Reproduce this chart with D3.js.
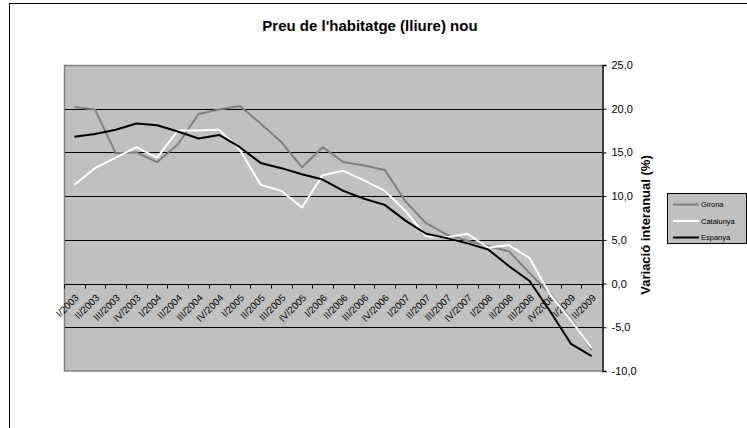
<!DOCTYPE html>
<html lang="ca">
<head>
  <meta charset="UTF-8">
  <title>Preu de l'habitatge (lliure) nou</title>
  <style>
    * { margin: 0; padding: 0; }
    body { background: #fff; width: 747px; height: 428px; overflow: hidden; }
    svg { display: block; font-family: "Liberation Sans", Arial, sans-serif; }
  </style>
  <script src="https://cdnjs.cloudflare.com/ajax/libs/d3/7.8.5/d3.min.js"></script>
</head>
<body>
  <svg id="chart" width="747" height="428"></svg>
  <script>
    const categories = [
      'I/2003', 'II/2003', 'III/2003', 'IV/2003',
      'I/2004', 'II/2004', 'III/2004', 'IV/2004',
      'I/2005', 'II/2005', 'III/2005', 'IV/2005',
      'I/2006', 'II/2006', 'III/2006', 'IV/2006',
      'I/2007', 'II/2007', 'III/2007', 'IV/2007',
      'I/2008', 'II/2008', 'III/2008', 'IV/2008',
      'I/2009', 'II/2009'
    ];
    const girona = [20.2, 19.9, 14.9, 15.0, 13.9, 15.9, 19.4, 19.9, 20.3, 18.3, 16.2, 13.3, 15.6,
      13.9, 13.5, 13.0, 9.4, 6.9, 5.6, 4.9, 4.3, 3.7, 1.2, -1.2, -4.0, -7.6];
    const catalunya = [11.3, 13.2, 14.4, 15.6, 14.4, 17.5, 17.5, 17.6, 15.3, 11.3, 10.6, 8.7, 12.4,
      12.9, 11.8, 10.6, 8.3, 5.4, 5.3, 5.7, 4.1, 4.4, 2.9, -1.3, -4.2, -7.4];
    const espanya = [16.8, 17.1, 17.6, 18.3, 18.1, 17.4, 16.6, 17.0, 15.6, 13.8, 13.2, 12.5, 11.9,
      10.6, 9.7, 9.0, 7.2, 5.7, 5.2, 4.6, 3.9, 2.0, 0.3, -3.2, -6.9, -8.3];
    const yTicks = [-10, -5, 0, 5, 10, 15, 20, 25];

    const series = [
      { name: 'Girona', values: girona, color: '#808080' },
      { name: 'Catalunya', values: catalunya, color: '#ffffff' },
      { name: 'Espanya', values: espanya, color: '#000000' }
    ];

    const plot = { left: 64, right: 602, top: 65, bottom: 371 };

    const svg = d3.select('#chart');

    // outer chart border
    svg.append('rect')
      .attr('x', 9.5).attr('y', 3.5)
      .attr('width', 800).attr('height', 500)
      .attr('fill', '#fff').attr('stroke', '#000');

    svg.append('text')
      .attr('x', 370).attr('y', 31)
      .attr('text-anchor', 'middle')
      .attr('font-size', 15).attr('font-weight', 'bold')
      .attr('fill', '#000')
      .text("Preu de l'habitatge (lliure) nou");

    const x = d3.scaleBand().domain(categories).range([plot.left, plot.right]);
    const y = d3.scaleLinear().domain([-10, 25]).range([plot.bottom, plot.top]);

    // plot area
    svg.append('rect')
      .attr('x', plot.left).attr('y', plot.top)
      .attr('width', plot.right - plot.left).attr('height', plot.bottom - plot.top)
      .attr('fill', '#c0c0c0');

    // gridlines
    svg.append('g').selectAll('line')
      .data(yTicks.filter(d => d > -10 && d < 25))
      .join('line')
      .attr('x1', plot.left).attr('x2', plot.right)
      .attr('y1', d => Math.round(y(d)) + 0.5).attr('y2', d => Math.round(y(d)) + 0.5)
      .attr('stroke', '#000');

    // plot border (top, left, bottom in grey)
    svg.append('path')
      .attr('d', `M${plot.right},${plot.top + 0.5}H${plot.left + 0.5}V${plot.bottom}H${plot.right}`)
      .attr('fill', 'none').attr('stroke', '#808080').attr('stroke-width', 1.5);

    // x axis along zero line, ticks at category boundaries
    const y0 = Math.round(y(0)) + 0.5;
    const xAxis = svg.append('g');
    xAxis.append('line')
      .attr('x1', plot.left).attr('x2', plot.right)
      .attr('y1', y0).attr('y2', y0)
      .attr('stroke', '#000');
    const bounds = categories.map(c => x(c)).concat([x(categories[categories.length - 1]) + x.bandwidth()]);
    xAxis.selectAll('.tick')
      .data(bounds)
      .join('line')
      .attr('class', 'tick')
      .attr('x1', d => Math.round(d) + 0.5).attr('x2', d => Math.round(d) + 0.5)
      .attr('y1', y0).attr('y2', y0 + 4)
      .attr('stroke', '#000');
    xAxis.selectAll('text')
      .data(categories)
      .join('text')
      .attr('transform', d => `translate(${x(d) + x.bandwidth() / 2 + 5},${y0 + 14}) rotate(-45)`)
      .attr('text-anchor', 'end')
      .attr('font-size', 9.8)
      .attr('fill', '#000')
      .text(d => d);

    // right y axis
    const yAxis = svg.append('g')
      .attr('transform', `translate(${plot.right + 0.5},0)`)
      .call(d3.axisRight(y).tickValues(yTicks).tickSize(4).tickPadding(5)
        .tickFormat(d => d.toFixed(1).replace('.', ',')));
    yAxis.select('.domain').attr('stroke', '#000').attr('stroke-width', 1.5);
    yAxis.selectAll('text').attr('font-size', 11).attr('fill', '#000')
      .attr('font-family', '"Liberation Sans", Arial, sans-serif');

    svg.append('text')
      .attr('transform', `translate(650,225) rotate(-90)`)
      .attr('text-anchor', 'middle')
      .attr('font-size', 13).attr('font-weight', 'bold')
      .attr('fill', '#000')
      .text('Variació interanual (%)');

    // series lines
    const line = d3.line()
      .x((d, i) => x(categories[i]) + x.bandwidth() / 2)
      .y(d => y(d));

    svg.append('g').selectAll('path')
      .data(series)
      .join('path')
      .attr('d', s => line(s.values))
      .attr('fill', 'none')
      .attr('stroke', s => s.color)
      .attr('stroke-width', 2)
      .attr('stroke-linejoin', 'round');

    // legend
    const legend = svg.append('g').attr('transform', 'translate(667,193)');
    legend.append('rect')
      .attr('x', 0.5).attr('y', 0.5).attr('width', 79).attr('height', 50)
      .attr('fill', '#c0c0c0').attr('stroke', '#000');
    const items = legend.selectAll('g.item')
      .data(series)
      .join('g')
      .attr('class', 'item')
      .attr('transform', (d, i) => `translate(0,${11.5 + i * 16.5})`);
    items.append('line')
      .attr('x1', 6).attr('x2', 32)
      .attr('stroke', d => d.color).attr('stroke-width', 2);
    items.append('text')
      .attr('x', 34).attr('y', 2.5)
      .attr('font-size', 7.5)
      .attr('fill', '#000')
      .text(d => d.name);
  </script>
</body>
</html>
